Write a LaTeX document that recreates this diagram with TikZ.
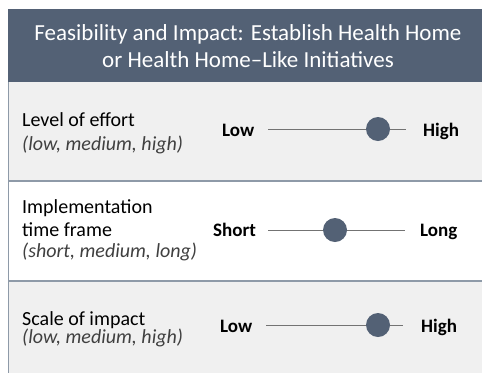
\documentclass[tikz,border=0pt]{standalone}
\usepackage{fontspec}
\setmainfont{Carlito}
\definecolor{hdr}{HTML}{536175}
\definecolor{rowgray}{HTML}{F0F0F0}
\definecolor{sep}{HTML}{8E9AA8}
\begin{document}
\begin{tikzpicture}[x=1pt,y=-1pt,
  lbl/.style={anchor=base west,inner sep=0pt,font=\fontsize{20}{24}\selectfont},
  sub/.style={anchor=base west,inner sep=0pt,font=\fontsize{20}{24}\selectfont\itshape,text=black!75},
  endlbl/.style={anchor=base west,inner sep=0pt,font=\fontsize{19}{22}\selectfont\bfseries},
  ttl/.style={anchor=base,inner sep=0pt,text=white,font=\fontsize{23}{27}\selectfont},
  track/.style={draw=black!55,line width=0.8pt},
  knob/.style={circle,fill=hdr,minimum size=24pt,inner sep=0pt}]
\useasboundingbox (0,0) rectangle (482,373);
% backgrounds
\fill[hdr] (8,9) rectangle (490,82);
\fill[rowgray] (8,82) rectangle (490,181);
\fill[white] (8,181) rectangle (490,281);
\fill[rowgray] (8,281) rectangle (490,373);
\draw[sep,line width=1.6pt] (8,181) -- (490,181);
\draw[sep,line width=1.6pt] (8,281) -- (490,281);
\draw[sep,line width=1pt] (8.5,82) -- (8.5,373);
% header
\node[ttl] (title1) at (248,40) {Feasibility and Impact: Establish Health Home};
\node[ttl] (title2) at (248,67) {or Health Home–Like Initiatives};
% row 1
\node[lbl] (r1a) at (22,126) {Level of effort};
\node[sub] (r1b) at (22,150) {(low, medium, high)};
\node[endlbl] (lo1) at (222,136) {Low};
\node[endlbl] (hi1) at (423,136) {High};
\coordinate (t1s) at (268,129);
\coordinate (t1e) at (406,129);
\draw[track] (t1s) -- (t1e);
\node[knob] (k1) at (378,129) {};
% row 2
\node[lbl] (r2a) at (22,213) {Implementation};
\node[lbl] (r2b) at (22,236.5) {time frame};
\node[sub] (r2c) at (22,257) {(short, medium, long)};
\node[endlbl] (lo2) at (213,236) {Short};
\node[endlbl] (hi2) at (420,236) {Long};
\coordinate (t2s) at (268,230);
\coordinate (t2e) at (405,230);
\draw[track] (t2s) -- (t2e);
\node[knob] (k2) at (335,230) {};
% row 3
\node[lbl] (r3a) at (22,325) {Scale of impact};
\node[sub] (r3b) at (22,343.5) {(low, medium, high)};
\node[endlbl] (lo3) at (220,332) {Low};
\node[endlbl] (hi3) at (421,332) {High};
\coordinate (t3s) at (266,325);
\coordinate (t3e) at (403,325);
\draw[track] (t3s) -- (t3e);
\node[knob] (k3) at (378,325) {};
\end{tikzpicture}
\end{document}
